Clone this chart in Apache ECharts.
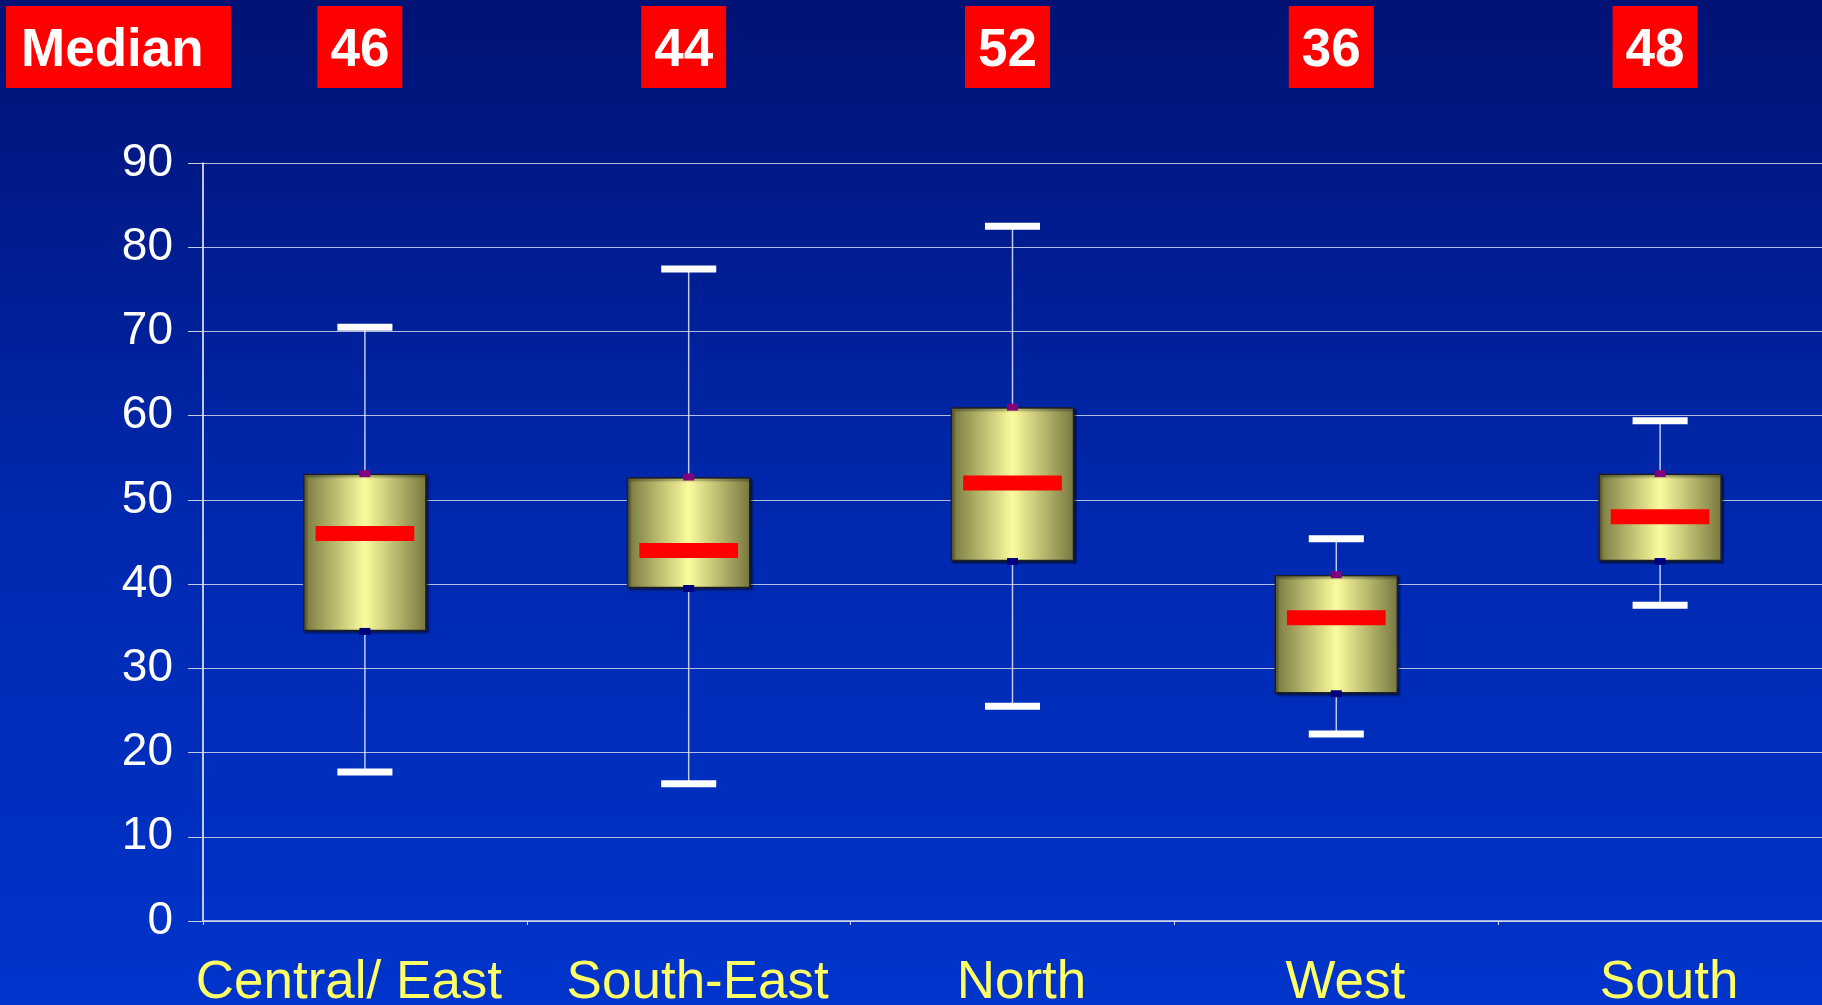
<!DOCTYPE html>
<html>
<head>
<meta charset="utf-8">
<script src="https://cdn.jsdelivr.net/npm/echarts@6/dist/echarts.min.js"></script>
<style>
  html, body { margin: 0; padding: 0; width: 100%; height: 100%; overflow: hidden; }
  #chart { width: 1822px; height: 1005px; }
</style>
</head>
<body>
<div id="chart"></div>
<script>
// Regions and their box-plot statistics
const categories = ['Central/ East', 'South-East', 'North', 'West', 'South'];
const whiskerHigh = [70.5, 77.4, 82.5, 45.4, 59.4];
const upperQuartile = [53.0, 52.6, 60.9, 41.0, 53.0];
const medians = [46, 44, 52, 36, 48];
const lowerQuartile = [34.5, 39.6, 42.8, 27.1, 42.8];
const whiskerLow = [17.7, 16.3, 25.5, 22.2, 37.5];

// Value axis ticks
const yMin = 0, yMax = 90, yStep = 10;

const boxData = categories.map((c, i) => [i, whiskerLow[i], lowerQuartile[i], medians[i], upperQuartile[i], whiskerHigh[i]]);
const medianLabelData = categories.map((c, i) => [i, medians[i]]);

// the first region name sits a little left of its slot, the others a little right
const categoryItems = categories.map((c, i) => (
  i === 0
    ? { value: c, textStyle: { padding: [0, 32, 0, 0] } }
    : { value: c, textStyle: { padding: [0, 0, 0, 18] } }
));

const chart = echarts.init(document.getElementById('chart'), null, { renderer: 'canvas' });

function renderBox(params, api) {
  const idx = api.value(0);
  const band = api.size([1, 0])[0];
  const x = api.coord([idx, 0])[0];
  const yLow = api.coord([idx, api.value(1)])[1];
  const yQ1 = api.coord([idx, api.value(2)])[1];
  const yMed = api.coord([idx, api.value(3)])[1];
  const yQ3 = api.coord([idx, api.value(4)])[1];
  const yHigh = api.coord([idx, api.value(5)])[1];

  const boxW = band * 0.377;
  const capW = band * 0.17;
  const medW = band * 0.305;
  const capH = 7;
  const medH = 15;
  const mkW = 11, mkH = 7;

  return {
    type: 'group',
    children: [
      // whisker stem
      {
        type: 'line',
        shape: { x1: x, y1: yHigh, x2: x, y2: yLow },
        style: { stroke: 'rgba(225,230,255,0.85)', lineWidth: 1.5 }
      },
      // whisker caps
      {
        type: 'rect',
        shape: { x: x - capW / 2, y: yHigh - capH / 2, width: capW, height: capH },
        style: { fill: '#ffffff' }
      },
      {
        type: 'rect',
        shape: { x: x - capW / 2, y: yLow - capH / 2, width: capW, height: capH },
        style: { fill: '#ffffff' }
      },
      // interquartile box with cylindrical shading
      {
        type: 'rect',
        shape: { x: x - boxW / 2, y: yQ3, width: boxW, height: yQ1 - yQ3 },
        style: {
          fill: new echarts.graphic.LinearGradient(0, 0, 1, 0, [
            { offset: 0, color: '#77773f' },
            { offset: 0.5, color: '#fbfb9e' },
            { offset: 1, color: '#77773f' }
          ]),
          stroke: '#1e1e1e',
          lineWidth: 1.5,
          shadowColor: 'rgba(0,0,0,0.45)',
          shadowOffsetX: 2,
          shadowOffsetY: 2,
          shadowBlur: 2
        }
      },
      // quartile markers
      {
        type: 'rect',
        shape: { x: x - mkW / 2, y: yQ3 - mkH / 2 - 1, width: mkW, height: mkH },
        style: { fill: '#800080' }
      },
      {
        type: 'rect',
        shape: { x: x - mkW / 2, y: yQ1 - mkH / 2 + 1, width: mkW, height: mkH },
        style: { fill: '#000080' }
      },
      // median bar
      {
        type: 'rect',
        shape: { x: x - medW / 2, y: yMed - medH / 2, width: medW, height: medH },
        style: { fill: '#ff0000' }
      }
    ]
  };
}

function renderMedianLabel(params, api) {
  const idx = api.value(0);
  const x = api.coord([idx, 0])[0] - 5;
  const w = 85, h = 82, top = 6;
  return {
    type: 'group',
    children: [
      {
        type: 'rect',
        shape: { x: x - w / 2, y: top, width: w, height: h },
        style: { fill: '#ff0000' }
      },
      {
        type: 'text',
        style: {
          x: x, y: top + h / 2 + 4,
          text: String(api.value(1)),
          align: 'center', verticalAlign: 'middle',
          font: 'bold 53px "Liberation Sans", Arial, sans-serif',
          fill: '#ffffff',
          textShadowColor: '#000000',
          textShadowOffsetX: 3,
          textShadowOffsetY: 3,
          textShadowBlur: 0
        }
      }
    ]
  };
}

chart.setOption({
  animation: false,
  backgroundColor: new echarts.graphic.LinearGradient(0, 0, 0, 1, [
    { offset: 0, color: '#001274' },
    { offset: 0.5, color: '#0028ad' },
    { offset: 1, color: '#0034cb' }
  ]),
  grid: { left: 203, right: 0, top: 163, bottom: 84, containLabel: false, outerBoundsMode: 'none' },
  xAxis: {
    type: 'category',
    data: categoryItems,
    boundaryGap: true,
    axisLine: { show: true, lineStyle: { color: '#d8dcf0', width: 1.5 } },
    axisTick: { show: true, length: 4, alignWithLabel: false, lineStyle: { color: '#d8dcf0' } },
    axisLabel: {
      color: '#ffff66',
      fontFamily: '"Liberation Sans", Arial, sans-serif',
      fontSize: 53,
      margin: 36,
      interval: 0,
      hideOverlap: false
    },
    splitLine: { show: false }
  },
  yAxis: {
    type: 'value',
    min: yMin,
    max: yMax,
    interval: yStep,
    axisLine: { show: true, lineStyle: { color: '#ffffff', width: 1.5 } },
    axisTick: { show: true, inside: false, length: 15, lineStyle: { color: '#c8cce0' } },
    axisLabel: {
      color: '#ffffff',
      fontFamily: '"Liberation Sans", Arial, sans-serif',
      fontSize: 46,
      margin: 30
    },
    splitLine: { show: true, lineStyle: { color: 'rgba(210,215,235,0.85)', width: 1.2 } }
  },
  graphic: [
    {
      type: 'group',
      left: 6, top: 6,
      children: [
        { type: 'rect', shape: { x: 0, y: 0, width: 225, height: 82 }, style: { fill: '#ff0000' } },
        {
          type: 'text',
          style: {
            x: 15, y: 45,
            text: 'Median',
            align: 'left', verticalAlign: 'middle',
            font: 'bold 53px "Liberation Sans", Arial, sans-serif',
            fill: '#ffffff',
            textShadowColor: '#000000',
            textShadowOffsetX: 3,
            textShadowOffsetY: 3
          }
        }
      ]
    }
  ],
  series: [
    {
      type: 'custom',
      name: 'box',
      renderItem: renderBox,
      encode: { x: 0, y: [1, 2, 3, 4, 5] },
      data: boxData,
      z: 10
    },
    {
      type: 'custom',
      name: 'medianLabels',
      renderItem: renderMedianLabel,
      encode: { x: 0, y: 1 },
      data: medianLabelData,
      clip: false,
      z: 20
    }
  ]
});
</script>
</body>
</html>
